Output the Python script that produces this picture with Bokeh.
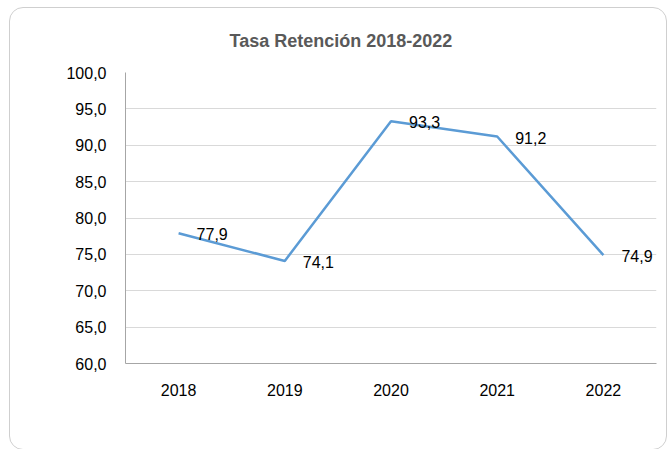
from bokeh.plotting import figure
from bokeh.models import ColumnDataSource, CustomJSTickFormatter, Title, FixedTicker, Range1d
from bokeh.core.properties import value
from bokeh.embed import file_html
from bokeh.resources import INLINE

years = ["2018", "2019", "2020", "2021", "2022"]
tasa = [77.9, 74.1, 93.3, 91.2, 74.9]
labels = [f"{v:.1f}".replace(".", ",") for v in tasa]
y_ticks = [60, 65, 70, 75, 80, 85, 90, 95, 100]
title_text = "Tasa Retención 2018-2022"

FONT = "Liberation Sans"

src = ColumnDataSource(dict(x=years, y=tasa, lab=labels))

p = figure(x_range=years, y_range=Range1d(60, 100), width=658, height=443,
           output_backend="svg", toolbar_location=None,
           min_border_left=115, min_border_right=12, min_border_top=64, min_border_bottom=88)
p.styles = {"border": "1px solid #cfcfcf", "border-radius": "14px",
            "margin-left": "9px", "margin-top": "7px"}
p.outline_line_color = None
p.background_fill_color = "white"
p.border_fill_color = None

t = Title(text=title_text, align="left", offset=104, standoff=40, vertical_align="top",
          text_font=FONT, text_font_size="18px", text_font_style="bold", text_color="#595959")
p.add_layout(t, "above")

p.line("x", "y", source=src, line_color="#5B9BD5", line_width=2.5)
p.text("x", "y", text="lab", source=src, x_offset=18, y_offset=1,
       text_baseline="middle", text_align="left",
       text_font=value(FONT), text_font_size="16px", text_color="#000000")

p.yaxis.ticker = FixedTicker(ticks=y_ticks)
p.yaxis.formatter = CustomJSTickFormatter(code="return tick.toFixed(1).replace('.', ',');")
for ax in (p.xaxis, p.yaxis):
    ax.major_tick_line_color = None
    ax.minor_tick_line_color = None
    ax.axis_line_color = "#a6a6a6"
    ax.axis_line_width = 1
    ax.major_label_text_font = FONT
    ax.major_label_text_font_size = "16px"
    ax.major_label_text_color = "#000000"
p.yaxis.major_label_standoff = 13
p.xaxis.major_label_standoff = 14
p.xgrid.grid_line_color = None
p.ygrid.grid_line_color = "#d9d9d9"
p.ygrid.grid_line_width = 1

open("out.html", "w").write(file_html(p, INLINE))
